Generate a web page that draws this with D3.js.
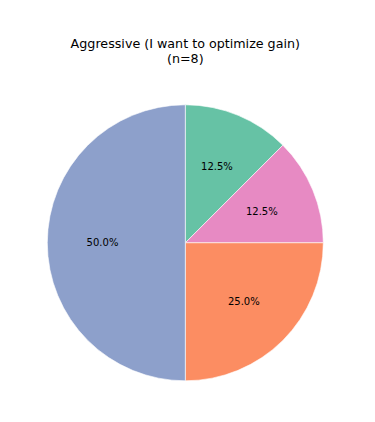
<!DOCTYPE html>
<html>
<head>
<meta charset="utf-8">
<script src="https://cdn.jsdelivr.net/npm/d3@7"></script>
<style>
  body { margin: 0; background: #fff; }
  text { font-family: "DejaVu Sans", sans-serif; fill: #000; }
</style>
</head>
<body>
<div id="chart"></div>
<script>
// slices, clockwise from 12 o'clock
const categories = ["A", "B", "C", "D"];
const counts = [1, 1, 2, 4];
const colors = ["#66c2a5", "#e78ac3", "#fc8d62", "#8da0cb"];
const titleLines = ["Aggressive (I want to optimize gain)", "(n=8)"];

const width = 375, height = 422;
const cx = 185.3, cy = 242.8, radius = 138;

const svg = d3.select("#chart").append("svg")
    .attr("width", width)
    .attr("height", height);

const total = d3.sum(counts);
const data = categories.map((c, i) => ({ cat: c, value: counts[i], color: colors[i] }));

const pie = d3.pie()
    .value(d => d.value)
    .sort(null);

const arc = d3.arc().innerRadius(0).outerRadius(radius);
const labelArc = d3.arc().innerRadius(radius * 0.6).outerRadius(radius * 0.6);

const g = svg.append("g")
    .attr("transform", "translate(" + cx + "," + cy + ")");

const slices = pie(data);

g.selectAll("path")
    .data(slices)
    .enter()
    .append("path")
        .attr("d", arc)
        .attr("fill", d => d.data.color)
        .attr("stroke", "#fff")
        .attr("stroke-width", 0.6);

g.selectAll("text.pct")
    .data(slices)
    .enter()
    .append("text")
        .attr("class", "pct")
        .attr("transform", d => "translate(" + labelArc.centroid(d) + ")")
        .attr("text-anchor", "middle")
        .attr("dominant-baseline", "central")
        .attr("font-size", "10px")
        .text(d => (d.data.value / total * 100).toFixed(1) + "%");

// title
svg.append("g").selectAll("text")
    .data(titleLines)
    .enter()
    .append("text")
        .attr("x", cx)
        .attr("y", (d, i) => 47.5 + i * 15.5)
        .attr("text-anchor", "middle")
        .attr("font-size", "12.7px")
        .text(d => d);
</script>
</body>
</html>
